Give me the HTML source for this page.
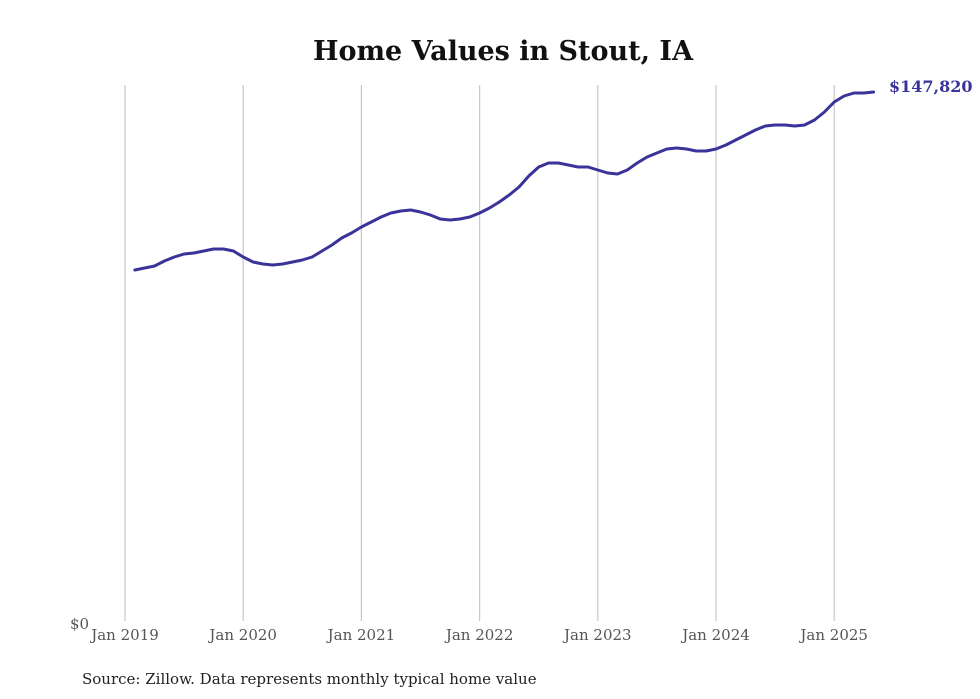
<!DOCTYPE html>
<html><head><meta charset="utf-8"><style>
body{margin:0;background:#fff;width:980px;height:699px;overflow:hidden}
svg{display:block;font-family:"DejaVu Serif","Liberation Serif",serif}
</style></head><body>
<svg id="chart" width="980" height="699" viewBox="0 0 980 699">
<text x="503" y="60" text-anchor="middle" font-size="27" font-weight="bold" fill="#111">Home Values in Stout, IA</text>
<g id="grid"></g><g id="xlabels"></g>
<text x="70" y="629" font-size="15" fill="#555">$0</text>
<path id="line" fill="none" stroke="#3a3399" stroke-width="3" stroke-linejoin="round" stroke-linecap="round"></path>
<text id="lastlabel" x="889" y="92" font-size="16" font-weight="bold" fill="#3a3399"></text>
<text x="82" y="684" font-size="15" fill="#222">Source: Zillow. Data represents monthly typical home value</text>
</svg>
<script>
const years = [2019,2020,2021,2022,2023,2024,2025];
const startMonthIndex = 1; // Feb 2019
const values = [98173,98731,99288,100683,101799,102635,102914,103472,104030,104030,103472,
101799,100404,99846,99567,99846,100404,100962,101799,103472,105145,107098,108492,
110166,111560,112955,114070,114628,114907,114349,113512,112397,112118,112397,112955,
114070,115465,117138,119090,121322,124389,126900,128015,128015,127457,126900,126900,
126063,125226,124947,126063,128015,129689,130804,131920,132199,131920,131362,131362,
131920,133035,134430,135824,137219,138334,138613,138613,138334,138613,140008,142239,
145028,146701,147541,147541,147820];
const x0=125, pxPerYear=118.2, y0=622, yTop=92, vTop=147820;
const xs = m => x0 + m*pxPerYear/12;
const ys = v => y0 - v*(y0-yTop)/vTop;
const ns="http://www.w3.org/2000/svg";
const grid=document.getElementById('grid'), xl=document.getElementById('xlabels');
years.forEach((y,i)=>{
  const x=xs(i*12);
  const l=document.createElementNS(ns,'line');
  
  
  l.setAttribute('x1',x);l.setAttribute('x2',x);l.setAttribute('y1',85);l.setAttribute('y2',621);
  l.setAttribute('stroke','#c8c8c8');l.setAttribute('stroke-width','1.2');
  grid.appendChild(l);
  const t=document.createElementNS(ns,'text');
  
  
  t.setAttribute('x',x);t.setAttribute('y',640);t.setAttribute('text-anchor','middle');
  t.setAttribute('font-size','15');t.setAttribute('fill','#555');
  t.textContent='Jan '+y;
  xl.appendChild(t);
});
let d='';
values.forEach((v,i)=>{d+=(i?'L':'M')+xs(startMonthIndex+i).toFixed(1)+','+ys(v).toFixed(1);});
document.getElementById('line').setAttribute('d',d);
const last=values[values.length-1];
const ll=document.getElementById('lastlabel');
ll.setAttribute('y',ys(last)+0);
ll.textContent='$'+last.toLocaleString('en-US');
</script>
</body></html>
